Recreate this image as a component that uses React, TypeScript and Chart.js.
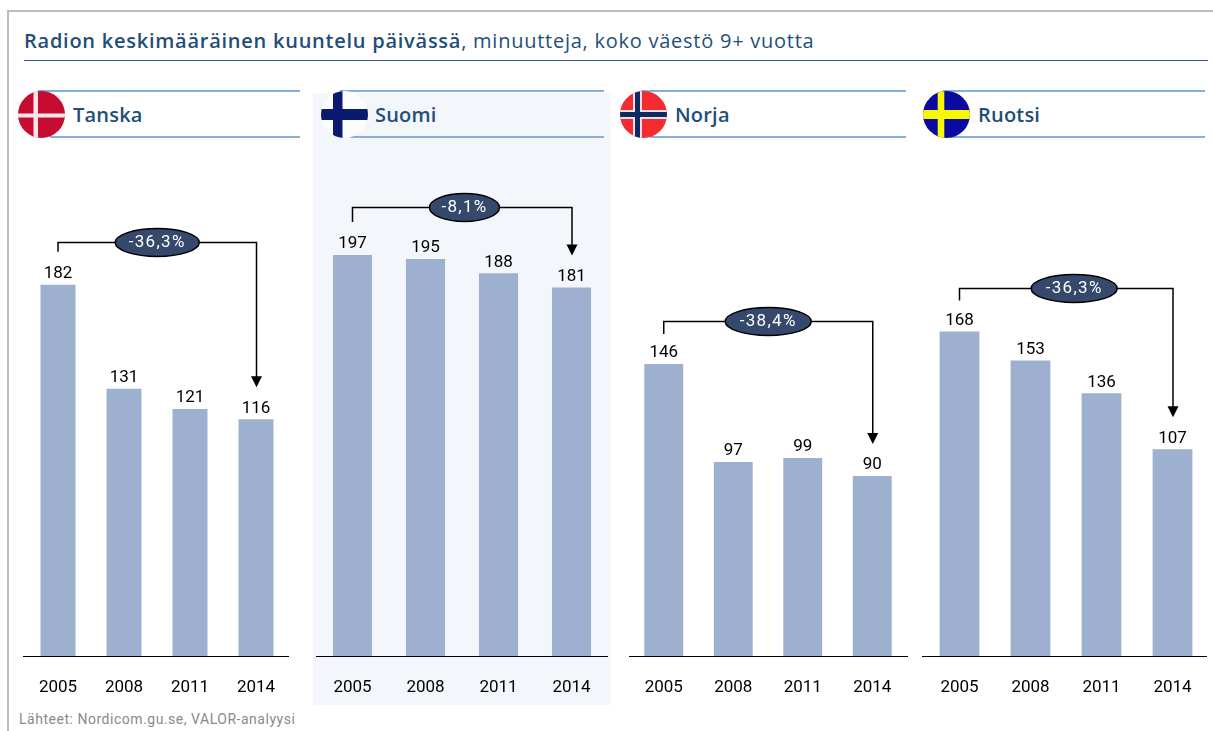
import React, { useEffect, useRef } from "react";
import { Chart, registerables } from "chart.js";

Chart.register(...registerables);

const years = ["2005", "2008", "2011", "2014"];
const tanskaValues = [182, 131, 121, 116];
const suomiValues = [197, 195, 188, 181];
const norjaValues = [146, 97, 99, 90];
const ruotsiValues = [168, 153, 136, 107];
const changes = ["-36,3%", "-8,1%", "-38,4%", "-36,3%"];
const countries = ["Tanska", "Suomi", "Norja", "Ruotsi"];

const FONT = "Roboto, sans-serif";
const TITLE_FONT = "'Open Sans', sans-serif";
const NAVY = "#1f4e79";

const panels = [
  { name: countries[0], values: tanskaValues, change: changes[0], left: 25, right: 289, axisL: 23, axisR: 289, yMax: 248, barPct: 0.53, lift: 43, drop: 33, badgeFrac: 0.5, rx: 42 },
  { name: countries[1], values: suomiValues, change: changes[1], left: 315.5, right: 607.5, axisL: 316, axisR: 608, yMax: 248.6, barPct: 0.535, lift: 48, drop: 33, badgeFrac: 0.51, rx: 35 },
  { name: countries[2], values: norjaValues, change: changes[2], left: 628.5, right: 906.5, axisL: 629, axisR: 908, yMax: 253, barPct: 0.56, lift: 43, drop: 30, badgeFrac: 0.5, rx: 43 },
  { name: countries[3], values: ruotsiValues, change: changes[3], left: 923.5, right: 1207.5, axisL: 922, axisR: 1207, yMax: 262, barPct: 0.56, lift: 44, drop: 31, badgeFrac: 0.537, rx: 43 },
];

const headers = [
  { flagX: 18, textX: 73, lineL: 38, lineLB: 50, lineR: 300 },
  { flagX: 321, textX: 375, lineL: 340, lineLB: 350, lineR: 604 },
  { flagX: 620, textX: 675, lineL: 641, lineLB: 650, lineR: 906 },
  { flagX: 923, textX: 978, lineL: 943, lineLB: 950, lineR: 1205 },
];

const CANVAS_TOP = 150;
const CANVAS_H = 550;
const AXIS_H = 44;

function BarPanel({ p }: { p: (typeof panels)[number] }) {
  const ref = useRef<HTMLCanvasElement | null>(null);
  useEffect(() => {
    if (!ref.current) return;
    const annotate = {
      id: "annotate",
      afterDatasetsDraw(chart: any) {
        const { ctx, scales } = chart;
        const x = scales.x;
        const y = scales.y;
        ctx.save();
        // value labels
        ctx.fillStyle = "#000";
        ctx.font = `17px ${FONT}`;
        ctx.textAlign = "center";
        ctx.textBaseline = "middle";
        p.values.forEach((v, i) => {
          ctx.fillText(String(v), x.getPixelForValue(i), y.getPixelForValue(v) - 11);
        });
        // bracket
        const last = p.values.length - 1;
        const x0 = x.getPixelForValue(0);
        const x1 = x.getPixelForValue(last) + 0.5;
        const top0 = y.getPixelForValue(p.values[0]);
        const topLast = y.getPixelForValue(p.values[last]);
        const level = Math.round(top0 - p.lift) + 0.5;
        const tip = topLast - 32;
        ctx.strokeStyle = "#000";
        ctx.lineWidth = 1.5;
        ctx.beginPath();
        ctx.moveTo(x0, top0 - p.drop);
        ctx.lineTo(x0, level);
        ctx.lineTo(x1, level);
        ctx.lineTo(x1, tip - 8);
        ctx.stroke();
        ctx.fillStyle = "#000";
        ctx.beginPath();
        ctx.moveTo(x1 - 5.5, tip - 11);
        ctx.lineTo(x1 + 5.5, tip - 11);
        ctx.lineTo(x1, tip);
        ctx.closePath();
        ctx.fill();
        // badge
        const bx = x0 + (x1 - x0) * p.badgeFrac;
        ctx.fillStyle = "#34496b";
        ctx.beginPath();
        ctx.ellipse(bx, level, p.rx, 14, 0, 0, Math.PI * 2);
        ctx.fill();
        ctx.stroke();
        ctx.fillStyle = "#fff";
        ctx.font = `17px ${FONT}`;
        (ctx as any).letterSpacing = "1.3px";
        ctx.fillText(p.change, bx, level + 0.5);
        ctx.restore();
      },
    };
    const chart = new Chart(ref.current, {
      type: "bar",
      data: {
        labels: years,
        datasets: [
          {
            data: p.values,
            backgroundColor: "#9db0cf",
            borderWidth: 0,
            barPercentage: p.barPct,
            categoryPercentage: 1,
          },
        ],
      },
      options: {
        animation: false,
        responsive: false,
        devicePixelRatio: 1,
        layout: { padding: 0 },
        plugins: { legend: { display: false }, tooltip: { enabled: false }, title: { display: false } },
        scales: {
          x: {
            afterFit(s: any) {
              s.height = AXIS_H;
              s.paddingLeft = 0;
              s.paddingRight = 0;
            },
            grid: { display: false, drawTicks: false },
            border: { display: false },
            ticks: {
              color: "#000",
              font: { family: FONT, size: 17 },
              padding: 22,
              maxRotation: 0,
              autoSkip: false,
            },
          },
          y: { display: false, min: 0, max: p.yMax },
        },
      },
      plugins: [annotate],
    } as any);
    return () => chart.destroy();
  }, [p]);
  return (
    <canvas
      ref={ref}
      width={p.right - p.left}
      height={CANVAS_H}
      style={{ position: "absolute", left: p.left, top: CANVAS_TOP, width: p.right - p.left, height: CANVAS_H }}
    />
  );
}

function Flag({ index, x }: { index: number; x: number }) {
  const id = `clip${index}`;
  const art = [
    <g key="dk">
      <rect width="47" height="47" fill="#c60c30" />
      <rect x="15.5" width="4.5" height="47" fill="#f6e8ea" />
      <rect y="22.5" width="47" height="4" fill="#f6e8ea" />
    </g>,
    <g key="fi">
      <rect width="47" height="47" fill="#fbfcfe" />
      <rect x="12" width="9.5" height="47" fill="#0a1a6e" />
      <rect y="18" width="47" height="11" fill="#0a1a6e" />
    </g>,
    <g key="no">
      <rect width="47" height="47" fill="#f22c30" />
      <rect x="13" width="9" height="47" fill="#f4dfe2" />
      <rect y="19" width="47" height="9" fill="#f4dfe2" />
      <rect x="15" width="5" height="47" fill="#0b2a66" />
      <rect y="21" width="47" height="5" fill="#0b2a66" />
    </g>,
    <g key="se">
      <rect width="47" height="47" fill="#0a0aa0" />
      <rect x="14.7" width="6.6" height="47" fill="#f8f800" />
      <rect y="19" width="47" height="9" fill="#f8f800" />
    </g>,
  ][index];
  return (
    <svg width="47" height="47" style={{ position: "absolute", left: x, top: 91 }}>
      <defs>
        <clipPath id={id}>
          <circle cx="23.5" cy="23.5" r="23.5" />
        </clipPath>
      </defs>
      <g clipPath={`url(#${id})`}>{art}</g>
    </svg>
  );
}

const abs = (left: number, top: number, width: number, height: number, background: string): React.CSSProperties => ({
  position: "absolute",
  left,
  top,
  width,
  height,
  background,
});

export default function App() {
  return (
    <div style={{ position: "fixed", left: 0, top: 0, width: 1213, height: 731, background: "#fff", overflow: "hidden" }}>
      <div style={abs(7, 9.5, 1206, 2, "#bcbcbc")} />
      <div style={abs(7, 9.5, 2, 722, "#bcbcbc")} />
      <div
        style={{
          position: "absolute",
          left: 24,
          top: 28,
          fontFamily: TITLE_FONT,
          fontSize: 20,
          lineHeight: "26px",
          color: NAVY,
          whiteSpace: "nowrap",
          letterSpacing: "0.75px",
        }}
      >
        <span style={{ fontWeight: 600, letterSpacing: "0.75px" }}>Radion keskimääräinen kuuntelu päivässä</span>, minuutteja, koko väestö 9+ vuotta
      </div>
      <div style={abs(24, 59.5, 1184, 1.5, "#2d5a88")} />
      <div style={abs(313, 93, 298, 612, "#f3f6fb")} />
      {headers.map((h, i) => (
        <React.Fragment key={i}>
          <div style={abs(h.lineL, 90, h.lineR - h.lineL, 2, "#86b0dc")} />
          <div style={abs(h.lineLB, 136, h.lineR - h.lineLB, 2, "#86b0dc")} />
          <Flag index={i} x={h.flagX} />
          <div
            style={{
              position: "absolute",
              left: h.textX,
              top: 100,
              fontFamily: TITLE_FONT,
              fontSize: 20,
              fontWeight: 600,
              lineHeight: "30px",
              color: NAVY,
              letterSpacing: "0.2px",
            }}
          >
            {countries[i]}
          </div>
        </React.Fragment>
      ))}
      {panels.map((p) => (
        <React.Fragment key={p.name}>
          <BarPanel p={p} />
          <div style={abs(p.axisL, 656, p.axisR - p.axisL, 1, "#000")} />
        </React.Fragment>
      ))}
      <div
        style={{
          position: "absolute",
          left: 19,
          top: 710,
          fontFamily: FONT,
          fontSize: 14,
          lineHeight: "18px",
          color: "#8a8a8a",
          letterSpacing: "0.52px",
          whiteSpace: "nowrap",
        }}
      >
        Lähteet: Nordicom.gu.se, VALOR-analyysi
      </div>
    </div>
  );
}
